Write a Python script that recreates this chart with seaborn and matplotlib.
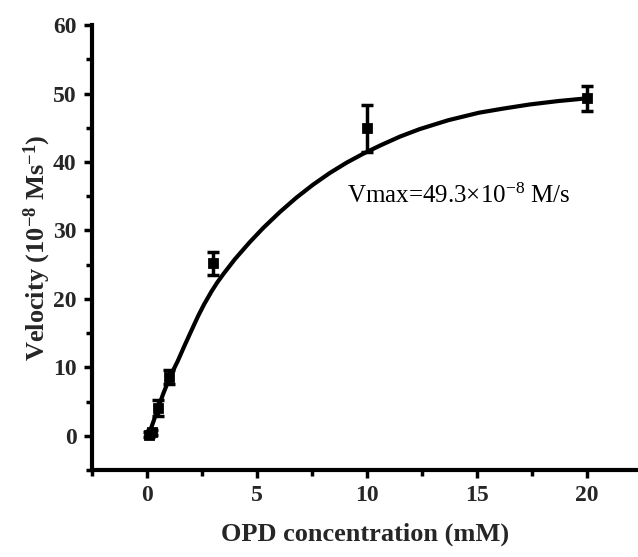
import matplotlib
matplotlib.use("Agg")
import matplotlib.pyplot as plt
import seaborn as sns
import pandas as pd
from matplotlib.ticker import MultipleLocator

# measured data
conc = [0.1, 0.25, 0.5, 1.0, 3.0, 10.0, 20.0]
velocity = [0.2, 0.5, 4.1, 8.6, 25.2, 44.9, 49.3]
err = [0.3, 0.3, 1.2, 1.0, 1.7, 3.4, 1.8]

# fitted curve
curve_x = [0.1, 0.3, 0.5, 0.75, 1.0, 1.2, 1.4, 1.73, 2.0, 2.33, 2.6, 2.94, 3.2, 3.47,
           4.0, 4.68, 5.3, 6.05, 6.8, 7.56, 8.32, 9.08, 9.83, 10.6, 11.5, 12.4,
           13.7, 15.1, 16.2, 17.4, 18.7, 20.0]
curve_y = [0.3, 2.1, 4.0, 6.2, 8.2, 9.6, 10.9, 13.3, 15.2, 17.5, 19.2, 21.1, 22.4, 23.6,
           25.8, 28.3, 30.4, 32.7, 34.8, 36.7, 38.4, 39.9, 41.2, 42.4, 43.7, 44.8,
           46.1, 47.2, 47.8, 48.4, 48.9, 49.3]

x_ticks = [0, 5, 10, 15, 20]
y_ticks = [0, 10, 20, 30, 40, 50, 60]

sns.set_theme(style="ticks")
plt.rcParams['font.family'] = ['Liberation Serif', 'DejaVu Serif']
plt.rcParams['mathtext.fontset'] = 'custom'
plt.rcParams['mathtext.rm'] = 'Liberation Serif'
plt.rcParams['mathtext.bf'] = 'Liberation Serif:bold'
plt.rcParams['mathtext.it'] = 'Liberation Serif:italic'

fig = plt.figure(figsize=(6.38, 5.57), dpi=100)
ax = fig.add_axes([0.144, 0.156, 0.855, 0.799])

df_curve = pd.DataFrame({"x": curve_x, "y": curve_y})
df_pts = pd.DataFrame({"x": conc, "y": velocity, "e": err})

sns.lineplot(data=df_curve, x="x", y="y", ax=ax, color="black", linewidth=3, sort=True)
ax.errorbar(df_pts["x"], df_pts["y"], yerr=df_pts["e"], fmt="none", ecolor="black",
            elinewidth=2.5, capsize=4, capthick=2.5, zorder=3)
sns.scatterplot(data=df_pts, x="x", y="y", ax=ax, marker="s", s=50, color="black",
                edgecolor="black", zorder=4)

ax.set_xlim(-2.5, 22.3)
ax.set_ylim(-5, 60)
ax.set_xticks(x_ticks)
ax.set_yticks(y_ticks)
ax.xaxis.set_minor_locator(MultipleLocator(2.5))
ax.yaxis.set_minor_locator(MultipleLocator(5))

for s in ["top", "right"]:
    ax.spines[s].set_visible(False)
for s in ["left", "bottom"]:
    ax.spines[s].set_linewidth(3)
    ax.spines[s].set_color("black")

ax.tick_params(axis="both", which="major", direction="out", length=6, width=2.5,
               labelsize=17, color="black", pad=5)
ax.tick_params(axis="both", which="minor", direction="out", length=4, width=2.5, color="black")
for lab in ax.get_xticklabels() + ax.get_yticklabels():
    lab.set_fontweight("bold")

ax.set_xlabel("OPD concentration (mM)", fontsize=19, fontweight="bold", labelpad=12)
ax.set_ylabel(r"Velocity (10$^{\mathbf{-8}}$ Ms$^{\mathbf{-1}}$)", fontsize=19,
              fontweight="bold", labelpad=0)

ax.text(14.2, 35.1, r"Vmax=49.3$\times$10$^{-8}$ M/s", fontsize=18, ha="center",
        va="center", color="black")

fig.savefig("out.png", dpi=100)
